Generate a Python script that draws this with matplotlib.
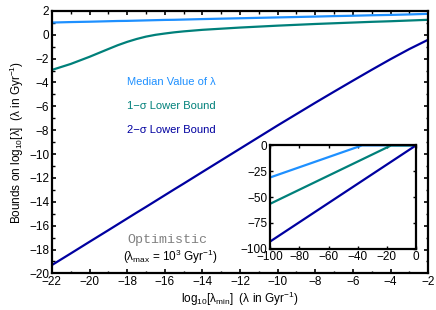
import matplotlib
matplotlib.use("Agg")
import matplotlib.pyplot as plt
from matplotlib.ticker import MultipleLocator

plt.rcParams["font.family"] = ["Liberation Sans", "DejaVu Sans"]
plt.rcParams["mathtext.fontset"] = "custom"
plt.rcParams["mathtext.rm"] = "Liberation Sans"
plt.rcParams["mathtext.it"] = "Liberation Sans"
plt.rcParams["mathtext.default"] = "regular"

# main panel: log10(lambda_min) vs bounds on log10(lambda)
lam_min = [-22, -21, -20, -19, -18.5, -18, -17.5, -17, -16.5, -16, -15.5, -15, -14,
           -12, -10, -8, -7, -6, -5, -4, -3, -2]
median = [1.02, 1.06, 1.09, 1.13, 1.15, 1.16, 1.18, 1.2, 1.22, 1.24, 1.25, 1.27, 1.31,
          1.38, 1.45, 1.52, 1.56, 1.59, 1.63, 1.66, 1.7, 1.75]
sigma1 = [-2.95, -2.45, -1.85, -1.2, -0.88, -0.6, -0.36, -0.16, -0.01, 0.1, 0.2, 0.28, 0.41,
          0.6, 0.76, 0.9, 0.96, 1.02, 1.08, 1.13, 1.19, 1.25]
sigma2 = [-19.3, -18.33, -17.35, -16.38, -15.89, -15.4, -14.91, -14.43, -13.94, -13.45, -12.96,
          -12.48, -11.5, -9.55, -7.6, -5.7, -4.77, -3.85, -2.94, -2.05, -1.2, -0.42]

# inset: wider range of lambda_min
ins_x_med = [-100, -37, 0]
ins_med = [-31, 0, 0]
ins_x_s1 = [-100, -17, 0]
ins_s1 = [-56.5, 0, 0]
ins_x_s2 = [-100, 0]
ins_s2 = [-93, 0]

c_med = "#1e90ff"
c_s1 = "#00807a"
c_s2 = "#0000a0"

fig = plt.figure(figsize=(4.36, 3.10), dpi=100)
ax = fig.add_axes([0.119, 0.118, 0.863, 0.847])

ax.plot(lam_min, median, color=c_med, lw=1.6)
ax.plot(lam_min, sigma1, color=c_s1, lw=1.6)
ax.plot(lam_min, sigma2, color=c_s2, lw=1.6)

ax.set_xlim(-22, -2)
ax.set_ylim(-20, 2)
ax.xaxis.set_major_locator(MultipleLocator(2))
ax.xaxis.set_minor_locator(MultipleLocator(1))
ax.yaxis.set_major_locator(MultipleLocator(2))
ax.yaxis.set_minor_locator(MultipleLocator(1))
ax.tick_params(which="both", direction="in", top=True, right=True, labelsize=8.5, pad=2)
ax.tick_params(which="major", length=3, width=1.2)
ax.tick_params(which="minor", length=1.8, width=1)
for s in ax.spines.values():
    s.set_linewidth(1.6)

ax.set_xlabel(r"log$_{10}$[λ$_{min}$]  (λ in Gyr$^{-1}$)", fontsize=8.5, labelpad=1)
ax.set_ylabel(r"Bounds on log$_{10}$[λ]  (λ in Gyr$^{-1}$)", fontsize=8.5, labelpad=2)

ax.text(-18, -4, "Median Value of λ", color=c_med, fontsize=8, va="center")
ax.text(-18, -6, "1−σ Lower Bound", color=c_s1, fontsize=8, va="center")
ax.text(-18, -8, "2−σ Lower Bound", color=c_s2, fontsize=8, va="center")
ax.text(-18, -17.2, "Optimistic", color="#808080", fontsize=9.5, va="center",
        family=["Liberation Mono", "DejaVu Sans Mono"])
ax.text(-18.2, -18.6, r"(λ$_{max}$ = 10$^3$ Gyr$^{-1}$)", color="black", fontsize=8.5, va="center")

ins = fig.add_axes([0.620, 0.198, 0.334, 0.333])
ins.plot(ins_x_med, ins_med, color=c_med, lw=1.6)
ins.plot(ins_x_s1, ins_s1, color=c_s1, lw=1.6)
ins.plot(ins_x_s2, ins_s2, color=c_s2, lw=1.6)
ins.set_xlim(-100, 0)
ins.set_ylim(-100, 0)
ins.xaxis.set_major_locator(MultipleLocator(20))
ins.yaxis.set_major_locator(MultipleLocator(25))
ins.tick_params(direction="in", top=True, right=True, labelsize=8.5, length=2.5, width=1, pad=2)
for s in ins.spines.values():
    s.set_linewidth(1.6)

fig.savefig("out.png", dpi=100)
